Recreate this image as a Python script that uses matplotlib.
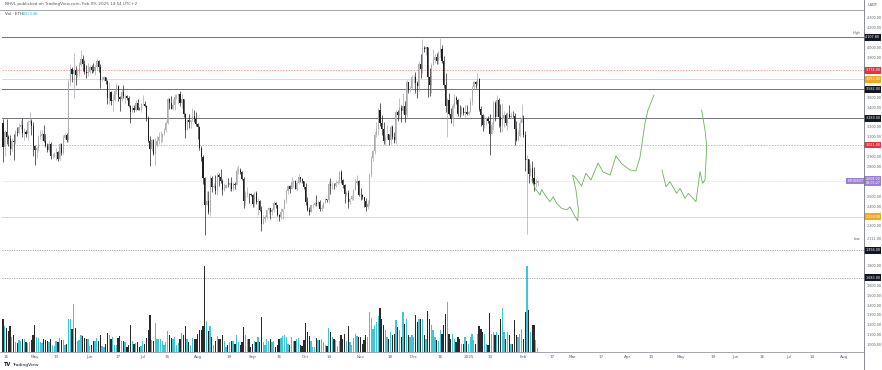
import numpy as np
import matplotlib
matplotlib.use('Agg')
import matplotlib.pyplot as plt
import matplotlib.transforms as mtransforms
import pandas as pd

# ---------------- data ----------------
start_date = '2024-04-13'
first_open = 3240

close = [
    # Apr 13-30
    3006, 3157, 3101, 3084, 2985, 3066, 3055, 3157, 3147, 3200, 3219, 3140, 3156, 3131, 3255, 3263, 3215, 3014,
    # May
    2970, 2988, 3103, 3117, 3137, 3063, 3007, 2974, 3035, 2911, 2912, 2929, 2950, 2881, 3036, 2945, 3092, 3122, 3071, 3662,
    3789, 3737, 3780, 3727, 3747, 3826, 3893, 3842, 3763, 3747, 3760,
    # Jun
    3814, 3780, 3767, 3811, 3865, 3812, 3678, 3681, 3706, 3668, 3497, 3560, 3468, 3480, 3566, 3620, 3510, 3482, 3560, 3514,
    3517, 3492, 3420, 3355, 3395, 3370, 3445, 3378, 3375, 3434,
    # Jul
    3440, 3418, 3295, 3061, 2982, 3067, 2930, 3019, 3066, 3100, 3101, 3133, 3175, 3245, 3488, 3442, 3387, 3426, 3503, 3517,
    3535, 3441, 3481, 3336, 3174, 3274, 3249, 3270, 3318, 3280, 3232,
    # Aug
    3204, 2988, 2903, 2688, 2419, 2460, 2341, 2683, 2600, 2609, 2555, 2721, 2703, 2662, 2569, 2591, 2616, 2614, 2636, 2573,
    2631, 2622, 2762, 2767, 2745, 2681, 2457, 2528, 2528, 2526, 2513,
    # Sep
    2425, 2538, 2450, 2451, 2368, 2225, 2272, 2297, 2360, 2388, 2340, 2360, 2437, 2416, 2316, 2294, 2340, 2373, 2466, 2559,
    2612, 2581, 2646, 2653, 2581, 2633, 2695, 2677, 2658, 2602,
    # Oct
    2447, 2364, 2349, 2414, 2415, 2440, 2422, 2441, 2370, 2385, 2439, 2476, 2470, 2628, 2607, 2611, 2605, 2642, 2646, 2747,
    2666, 2620, 2525, 2535, 2441, 2480, 2507, 2568, 2637, 2659, 2518,
    # Nov
    2512, 2494, 2458, 2400, 2421, 2722, 2895, 2961, 3125, 3183, 3370, 3244, 3187, 3058, 3091, 3132, 3076, 3207, 3106, 3069,
    3355, 3328, 3393, 3361, 3414, 3325, 3655, 3580, 3592, 3705,
    # Dec
    3706, 3645, 3614, 3837, 3786, 4001, 3995, 4007, 3709, 3628, 3832, 3879, 3906, 3872, 3959, 3986, 3874, 3625, 3418, 3480,
    3330, 3280, 3418, 3491, 3476, 3333, 3331, 3397, 3349, 3355, 3332,
    # Jan
    3353, 3452, 3605, 3657, 3634, 3685, 3380, 3329, 3221, 3267, 3282, 3266, 3136, 3224, 3450, 3309, 3473, 3304, 3215, 3282,
    3327, 3242, 3339, 3307, 3317, 3314, 3181, 3076, 3113, 3248, 3298,
    # Feb 1-9
    3124, 2869, 2880, 2732, 2786, 2687, 2624, 2633, 2658,
]

high = [
    3285, 3175, 3280, 3125, 3124, 3094, 3128, 3176, 3200, 3240, 3275, 3290, 3190, 3170, 3270, 3355, 3285, 3250,
    3020, 3015, 3120, 3170, 3170, 3220, 3130, 3040, 3058, 3052, 2945, 2955, 2996, 2960, 3040, 3042, 3120, 3145, 3145, 3690,
    3840, 3814, 3949, 3820, 3790, 3860, 3977, 3930, 3880, 3825, 3848,
    3834, 3830, 3850, 3830, 3887, 3878, 3840, 3717, 3720, 3712, 3675, 3658, 3562, 3539, 3590, 3650, 3623, 3520, 3590, 3628,
    3540, 3526, 3520, 3430, 3430, 3421, 3480, 3490, 3403, 3450,
    3524, 3466, 3425, 3310, 3108, 3077, 3080, 3097, 3108, 3150, 3160, 3140, 3190, 3262, 3500, 3498, 3518, 3487, 3540, 3540,
    3545, 3562, 3541, 3487, 3341, 3287, 3330, 3272, 3396, 3370, 3350,
    3240, 3215, 3015, 2920, 2698, 2560, 2555, 2715, 2706, 2642, 2722, 2740, 2740, 2780, 2677, 2634, 2630, 2690, 2650, 2696,
    2644, 2643, 2800, 2820, 2790, 2760, 2695, 2560, 2600, 2540, 2535,
    2522, 2560, 2555, 2490, 2465, 2410, 2315, 2310, 2370, 2393, 2390, 2387, 2457, 2445, 2420, 2320, 2390, 2375, 2475, 2570,
    2615, 2615, 2700, 2672, 2670, 2660, 2728, 2702, 2690, 2660,
    2640, 2500, 2400, 2420, 2425, 2450, 2520, 2470, 2462, 2420, 2450, 2484, 2480, 2655, 2690, 2645, 2642, 2665, 2665, 2760,
    2770, 2680, 2625, 2560, 2564, 2490, 2520, 2576, 2680, 2720, 2670,
    2587, 2530, 2500, 2485, 2464, 2740, 2910, 2975, 3150, 3250, 3390, 3446, 3325, 3250, 3120, 3222, 3135, 3223, 3220, 3156,
    3377, 3375, 3497, 3427, 3550, 3463, 3682, 3660, 3620, 3730,
    3730, 3760, 3670, 3870, 3940, 4090, 4020, 4010, 4010, 3800, 3845, 3990, 3940, 3950, 3970, 4107, 4030, 3920, 3750, 3495,
    3550, 3395, 3445, 3535, 3520, 3490, 3430, 3420, 3405, 3430, 3430,
    3365, 3495, 3615, 3670, 3670, 3745, 3700, 3415, 3335, 3320, 3300, 3310, 3330, 3258, 3470, 3462, 3525, 3495, 3440, 3450,
    3365, 3345, 3350, 3428, 3350, 3365, 3340, 3260, 3175, 3285, 3440,
    3325, 3160, 2925, 2880, 2825, 2855, 2795, 2680, 2665,
]

low = [
    2852, 2912, 3030, 3010, 2920, 2956, 2868, 3036, 3116, 3131, 3180, 3105, 3076, 3105, 3075, 3235, 3120, 2910,
    2817, 2892, 2958, 3085, 3072, 3050, 3000, 2950, 2950, 2880, 2890, 2903, 2865, 2860, 2865, 2925, 2932, 3085, 3052, 3050,
    3620, 3655, 3500, 3627, 3705, 3721, 3823, 3773, 3742, 3702, 3720,
    3752, 3752, 3757, 3732, 3780, 3762, 3600, 3670, 3670, 3642, 3433, 3435, 3425, 3360, 3470, 3535, 3470, 3365, 3470, 3500,
    3445, 3475, 3410, 3240, 3350, 3355, 3365, 3372, 3370, 3358,
    3423, 3405, 3265, 3050, 2810, 2962, 2925, 2823, 3006, 3035, 3042, 3050, 3120, 3152, 3234, 3380, 3380, 3377, 3375, 3490,
    3436, 3420, 3400, 3306, 3087, 3171, 3192, 3195, 3260, 3250, 3218,
    3080, 2975, 2855, 2630, 2111, 2415, 2320, 2309, 2550, 2584, 2528, 2512, 2612, 2636, 2520, 2553, 2586, 2600, 2560, 2560,
    2555, 2580, 2620, 2730, 2725, 2670, 2390, 2420, 2500, 2435, 2502,
    2400, 2400, 2428, 2310, 2358, 2150, 2220, 2240, 2272, 2322, 2278, 2311, 2345, 2390, 2300, 2252, 2278, 2275, 2373, 2440,
    2530, 2538, 2576, 2595, 2575, 2556, 2623, 2650, 2637, 2580,
    2415, 2350, 2310, 2340, 2390, 2402, 2410, 2405, 2350, 2350, 2381, 2433, 2442, 2440, 2531, 2580, 2580, 2600, 2627, 2640,
    2640, 2590, 2440, 2510, 2385, 2425, 2468, 2470, 2565, 2620, 2502,
    2465, 2475, 2400, 2355, 2375, 2405, 2695, 2863, 2930, 3100, 3125, 3210, 3118, 3030, 3017, 3085, 3020, 3030, 3080, 3038,
    3032, 3260, 3303, 3255, 3330, 3252, 3300, 3550, 3555, 3585,
    3648, 3545, 3500, 3565, 3700, 3746, 3963, 3933, 3510, 3520, 3550, 3825, 3845, 3840, 3842, 3915, 3850, 3592, 3350, 3100,
    3320, 3240, 3215, 3390, 3440, 3310, 3305, 3325, 3320, 3300, 3320,
    3320, 3350, 3430, 3590, 3600, 3625, 3360, 3210, 3160, 3190, 3225, 3245, 2920, 3130, 3168, 3260, 3305, 3200, 3150, 3150,
    3200, 3225, 3170, 3291, 3285, 3300, 3020, 3060, 3060, 3100, 3250,
    3105, 2760, 2120, 2640, 2710, 2650, 2560, 2595, 2610,
]

volume_k = [
    1000, 780, 720, 630, 780, 450, 520, 300, 280, 350, 330, 400, 380, 300, 280, 300, 360, 500,
    820, 450, 420, 300, 280, 400, 350, 330, 300, 390, 200, 180, 330, 300, 420, 360, 360, 220, 250, 1000,
    1000, 700, 1440, 720, 330, 360, 500, 480, 420, 400, 380,
    180, 220, 330, 330, 420, 330, 500, 180, 150, 250, 560, 500, 380, 450, 200, 200, 420, 480, 330, 330,
    300, 160, 200, 810, 330, 250, 280, 290, 150, 180,
    330, 240, 420, 650, 1100, 350, 330, 870, 400, 380, 380, 330, 220, 300, 620, 500, 420, 380, 460, 200,
    260, 400, 560, 500, 780, 380, 300, 200, 420, 380, 380,
    550, 660, 660, 780, 2580, 930, 630, 780, 450, 200, 330, 480, 380, 400, 500, 330, 150, 200, 300, 330,
    330, 250, 500, 300, 200, 300, 750, 520, 380, 400, 150,
    250, 330, 300, 450, 300, 1050, 300, 200, 380, 330, 400, 300, 330, 150, 200, 380, 420, 480, 520, 450,
    250, 200, 450, 330, 330, 380, 420, 200, 180, 350,
    870, 600, 480, 330, 150, 150, 420, 350, 350, 380, 300, 200, 180, 720, 600, 450, 380, 350, 180, 330,
    500, 380, 550, 330, 780, 300, 200, 420, 550, 480, 450,
    450, 250, 350, 500, 450, 1200, 1020, 700, 800, 900, 1080, 1320, 1000, 800, 650, 450, 400, 600, 500, 550,
    950, 750, 650, 450, 1200, 850, 1000, 500, 450, 500,
    450, 1100, 900, 1000, 1000, 1000, 500, 400, 1230, 1000, 800, 650, 450, 350, 330, 650, 550, 800, 1150, 1500,
    550, 400, 550, 400, 300, 450, 400, 250, 250, 450, 330,
    250, 450, 550, 350, 250, 550, 780, 700, 600, 550, 250, 200, 1170, 550, 600, 500, 600, 500, 1000, 1320,
    600, 400, 600, 500, 250, 250, 960, 500, 450, 550, 700,
    400, 1200, 2580, 1260, 600, 800, 800, 350, 120,
]

# horizontal levels: price, kind
level_prices = [4107.80, 3774.0, 3683.0, 3582.0, 3289.0, 3021.0, 2299.0, 1956.0, 1683.0]
level_kinds = ['solid', 'red', 'yellow', 'solid', 'solid', 'red', 'yellow', 'dotted', 'dotted']

# hand-drawn projection paths (day offset from start, price)
proj1_day = [298.7, 300.6, 303.4, 304.3, 306.2, 309.0, 310.9, 312.8, 315.6, 318.5, 320.3, 322.2, 324.7, 325.1,
             323.7, 321.8, 323.2, 326.9, 329.3, 332.2, 336.2, 339.0, 343.0, 346.3, 349.7, 354.2, 357.6, 359.9,
             362.7, 364.4, 367.8]
proj1_price = [2668, 2584, 2516, 2572, 2516, 2449, 2499, 2432, 2382, 2365, 2398, 2331, 2254, 2365,
               2567, 2718, 2698, 2607, 2735, 2668, 2839, 2749, 2718, 2910, 2829, 2769, 2759, 2900,
               3243, 3375, 3526]
proj2_day = [372.3, 374.6, 376.8, 380.6, 382.5, 385.3, 387.2, 391.5, 393.8, 395.3, 396.6, 397.6, 396.6, 394.7]
proj2_price = [2769, 2600, 2651, 2533, 2584, 2483, 2533, 2449, 2752, 2634, 2668, 3004, 3173, 3375]

x_tick_dates = ['2024-04-15', '2024-05-01', '2024-05-13', '2024-06-01', '2024-06-17', '2024-07-01', '2024-07-15',
                '2024-08-01', '2024-08-19', '2024-09-01', '2024-09-16', '2024-10-01', '2024-10-14', '2024-11-01',
                '2024-11-18', '2024-12-01', '2024-12-16', '2025-01-01', '2025-01-13', '2025-02-01', '2025-02-17',
                '2025-03-01', '2025-03-17', '2025-04-01', '2025-04-14', '2025-05-01', '2025-05-19', '2025-06-01',
                '2025-06-16', '2025-07-01', '2025-07-14', '2025-08-01']
x_tick_labels = ['15', 'May', '13', 'Jun', '17', 'Jul', '15', 'Aug', '19', 'Sep', '16', 'Oct', '14', 'Nov',
                 '18', 'Dec', '16', '2025', '13', 'Feb', '17', 'Mar', '17', 'Apr', '14', 'May', '19', 'Jun',
                 '16', 'Jul', '14', 'Aug']

y_ticks = list(range(1000, 4400, 100))

header_text = 'NHVL published on TradingView.com, Feb 09, 2025 14:54 UTC+2'
legend_left = 'Vol \u00b7 ETH'
legend_value = '120.54K'
symbol = 'ETHUSDT'
countdown = '09:05:27'

# ---------------- styling ----------------
UP = '#a9abb0'
DOWN = '#1f1f1f'
VOL_UP = '#3fc6d6'
VOL_DOWN = '#2a2a2a'
TXT = '#5d606b'
FS = 3.0
AX_FS = 2.45

plt.rcParams['font.family'] = ['DejaVu Sans']

W, H = 882, 370
fig = plt.figure(figsize=(W / 100, H / 100), dpi=100)
fig.patch.set_facecolor('white')

pane_l, pane_r, pane_t, pane_b = 2, 864, 10, 352
ax = fig.add_axes([pane_l / W, 1 - pane_b / H, (pane_r - pane_l) / W, (pane_b - pane_t) / H])
ax.set_facecolor('none')

n = len(close)
x = np.arange(n)
c = np.array(close, float)
o = np.r_[first_open, c[:-1]]
hi = np.array(high, float)
lo = np.array(low, float)
up = c >= o

# volume on overlay axis (drawn beneath)
axv = fig.add_axes(ax.get_position(), sharex=ax)
axv.set_zorder(0)
ax.set_zorder(1)
axv.bar(x, volume_k, width=0.72, color=np.where(up, VOL_UP, VOL_DOWN), linewidth=0)
axv.set_ylim(0, 10260)
axv.axis('off')

# price scale
px_per_day = 1.77
x_left = (pane_l - 3) / px_per_day
x_right = (pane_r - 3) / px_per_day
ax.set_xlim(x_left, x_right)
p_per_px = 10.1
ax.set_ylim(4107 - (pane_b - 37.5) * p_per_px, 4107 + (37.5 - pane_t) * p_per_px)

# levels
for p, k in zip(level_prices, level_kinds):
    if k == 'solid':
        ax.axhline(p, color='#6f7177', lw=0.7, zorder=1)
    elif k == 'red':
        ax.axhline(p, color='#f0767f', lw=0.5, ls=(0, (2, 2)), zorder=1)
    elif k == 'yellow':
        ax.axhline(p, color='#f3cf94', lw=0.6, zorder=1)
    else:
        ax.axhline(p, color='#8a8c92', lw=0.6, ls=(0, (1.2, 1.6)), zorder=1)

# current price line
last = c[-1]
ax.axhline(last, color='#c9c9d0', lw=0.4, ls=(0, (1.5, 1.5)), zorder=1)

# candles
ax.vlines(x, lo, hi, colors=np.where(up, UP, DOWN), lw=0.5, zorder=3)
body_lo = np.minimum(o, c)
body_h = np.maximum(np.abs(c - o), 4)
ax.bar(x, body_h, bottom=body_lo, width=0.62, color=np.where(up, UP, DOWN), linewidth=0, zorder=3)

# projections
ax.plot(proj1_day, proj1_price, color='#69b15a', lw=0.6, zorder=4, solid_joinstyle='round')
ax.plot(proj2_day, proj2_price, color='#69b15a', lw=0.6, zorder=4, solid_joinstyle='round')

# spines / ticks
for s in ax.spines.values():
    s.set_visible(False)
ax.set_yticks([])
start = pd.Timestamp(start_date)
tick_pos = [(pd.Timestamp(d) - start).days for d in x_tick_dates]
ax.set_xticks(tick_pos)
ax.set_xticklabels(x_tick_labels, fontsize=FS, color=TXT)
ax.tick_params(axis='x', length=0, pad=2.2)

blend = mtransforms.blended_transform_factory(ax.transAxes, ax.transData)
boxed = list(level_prices) + [c[-1], min(low)]
for p in y_ticks:
    if min(abs(p - b) for b in boxed) < 70:
        continue  # hidden behind a price label, as on the reference
    ax.text(1.003, p, f'{p:,.2f}', transform=blend, fontsize=AX_FS, color=TXT, va='center', ha='left',
            clip_on=False, zorder=2)

# axis price labels
def price_box(p, fc, txt=None, tc='white'):
    ax.text(1.0015, p, txt if txt else f'{p:,.2f}', transform=blend, fontsize=AX_FS, color=tc, va='center',
            ha='left', clip_on=False, zorder=6,
            bbox=dict(boxstyle='square,pad=0.35', fc=fc, ec='none'))

box_col = {'solid': '#131722', 'red': '#e8333f', 'yellow': '#f0a81c', 'dotted': '#131722'}
for p, k in zip(level_prices, level_kinds):
    price_box(p, box_col[k])

# current price (two-line purple)
ax.text(1.0015, last, f'{last:,.2f}\n{countdown}', transform=blend, fontsize=2.3, color='white', va='center',
        ha='left', clip_on=False, zorder=6, linespacing=1.1,
        bbox=dict(boxstyle='square,pad=0.35', fc='#9b7fd4', ec='none'))
ax.text(0.999, last, symbol, transform=blend, fontsize=2.4, color='white', va='center', ha='right',
        clip_on=False, zorder=6, bbox=dict(boxstyle='square,pad=0.35', fc='#9b7fd4', ec='none'))

# High / Low markers
ax.text(0.996, max(high) + 45, 'High', transform=blend, fontsize=2.4, color=TXT, ha='right', va='center')
ax.text(0.996, min(low) - 40, 'Low', transform=blend, fontsize=2.4, color=TXT, ha='right', va='center')
ax.text(1.003, min(low) - 40, f'{min(low):,.2f}', transform=blend, fontsize=AX_FS, color=TXT, va='center',
        ha='left', clip_on=False, zorder=6)

# frame lines
fig.add_artist(plt.Line2D([0, pane_r / W], [1 - pane_t / H] * 2, color='#9598a1', lw=0.6))
fig.add_artist(plt.Line2D([0, pane_r / W], [1 - pane_b / H] * 2, color='#9598a1', lw=0.6))
fig.add_artist(plt.Line2D([pane_r / W] * 2, [0, 1], color='#777a82', lw=0.6))

# header texts
fig.text(5 / W, 1 - 3.5 / H, header_text, fontsize=3.0, color='#555', va='center', ha='left')
fig.text(5 / W, 1 - 14 / H, legend_left, fontsize=3.0, color='#444', va='center', ha='left')
fig.text(22 / W, 1 - 14 / H, legend_value, fontsize=3.0, color='#26b5c6', va='center', ha='left')
fig.text((pane_r + 4) / W, 1 - 4.5 / H, 'USDT', fontsize=2.6, color='#444', va='center', ha='left')

# TradingView footer
fig.text(4 / W, 1 - 365 / H, 'TV', fontsize=3.6, color='#131722', fontweight='bold', va='center', ha='left')
fig.text(12 / W, 1 - 365 / H, 'TradingView', fontsize=3.2, color='#131722', va='center', ha='left')

fig.savefig('out.png', dpi=100, facecolor='white')
